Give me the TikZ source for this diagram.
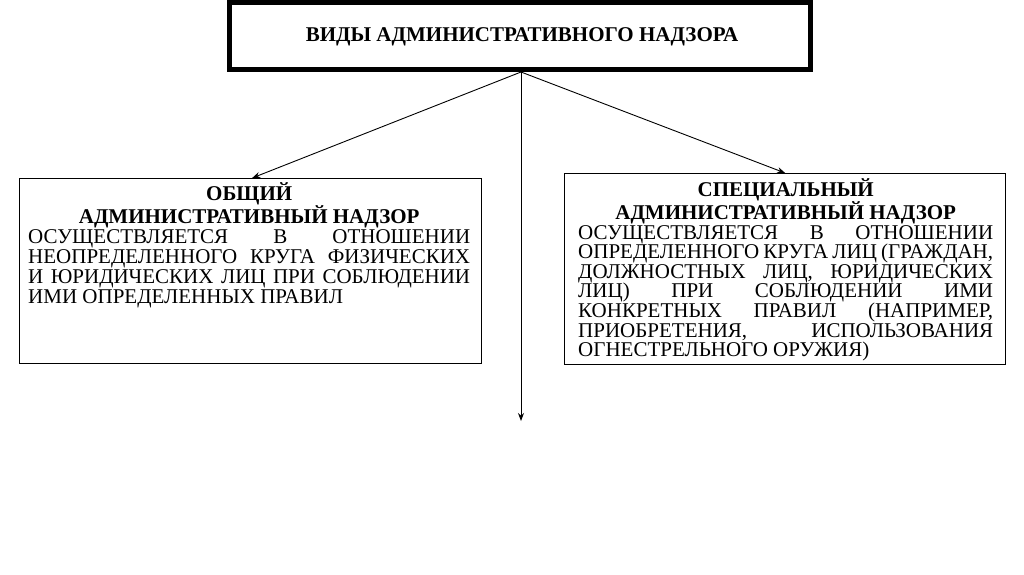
\documentclass[tikz,border=0pt]{standalone}
\usepackage{fontspec}
\setmainfont{Liberation Serif}
\usetikzlibrary{arrows.meta}
\begin{document}
\begin{tikzpicture}[x=1pt,y=-1pt,
  box/.style={draw=black, line width=1.3pt, inner sep=0pt, fill=white},
  topbox/.style={draw=black, line width=5pt, inner sep=0pt, minimum width=581pt, minimum height=67pt},
  txt/.style={inner sep=0pt, align=justify, font=\fontsize{21pt}{20pt}\selectfont, execute at begin node={\parindent=0pt\hyphenpenalty=10000\hbadness=10000\hfuzz=20pt}},
  arr/.style={draw=black, line width=0.9pt, -{Stealth[length=8pt,width=6pt]}}]
\useasboundingbox (0,0) rectangle (1024,574);
\fill[white] (0,0) rectangle (1024,574);
% top box
\node[topbox] (T) at (520,36) {};
\node[inner sep=0pt, font=\bfseries\fontsize{21pt}{20pt}\selectfont] (Tt) at (522,37) {ВИДЫ АДМИНИСТРАТИВНОГО НАДЗОРА};
% left box
\node[box, minimum width=462pt, minimum height=185pt, anchor=north west] (L) at (18.5,178) {};
\node[txt, text width=442pt, anchor=north west] (Lt) at (28,182) {{\bfseries\centering ОБЩИЙ\\ АДМИНИСТРАТИВНЫЙ НАДЗОР\par}ОСУЩЕСТВЛЯЕТСЯ В ОТНОШЕНИИ\linebreak НЕОПРЕДЕЛЕННОГО КРУГА ФИЗИЧЕСКИХ\linebreak И ЮРИДИЧЕСКИХ ЛИЦ ПРИ СОБЛЮДЕНИИ\linebreak ИМИ ОПРЕДЕЛЕННЫХ ПРАВИЛ};
% right box
\node[box, minimum width=441pt, minimum height=191pt, anchor=north west] (R) at (564,173) {};
\node[txt, text width=415pt, anchor=north west, font=\fontsize{21pt}{19.6pt}\selectfont] (Rt) at (578,178) {{\bfseries\centering СПЕЦИАЛЬНЫЙ\\ АДМИНИСТРАТИВНЫЙ НАДЗОР\par}ОСУЩЕСТВЛЯЕТСЯ В ОТНОШЕНИИ\linebreak ОПРЕДЕЛЕННОГО КРУГА ЛИЦ (ГРАЖДАН,\linebreak ДОЛЖНОСТНЫХ ЛИЦ, ЮРИДИЧЕСКИХ\linebreak ЛИЦ) ПРИ СОБЛЮДЕНИИ ИМИ\linebreak КОНКРЕТНЫХ ПРАВИЛ (НАПРИМЕР,\linebreak ПРИОБРЕТЕНИЯ, ИСПОЛЬЗОВАНИЯ\linebreak ОГНЕСТРЕЛЬНОГО ОРУЖИЯ)};
% connectors
\coordinate (D) at (521,421);
\draw[arr] ([xshift=1pt]T.south) -- ([xshift=2pt]L.north);
\draw[arr] ([xshift=1pt]T.south) -- (R.north);
\draw[arr] ([xshift=1pt]T.south) -- (D);
\end{tikzpicture}
\end{document}
